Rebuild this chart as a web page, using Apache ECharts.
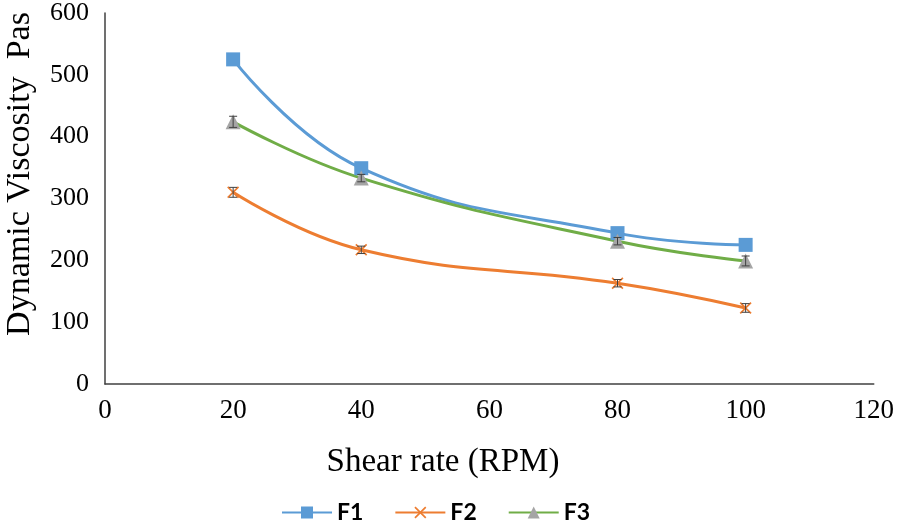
<!DOCTYPE html>
<html><head><meta charset="utf-8">
<script src="https://cdn.jsdelivr.net/npm/echarts@6/dist/echarts.min.js"></script>
<style>html,body{margin:0;padding:0;background:#fff}#c{width:897px;height:523px}</style>
</head><body><div id="c"></div>
<script>
const shearRate = [20, 40, 80, 100];
const F1 = [525, 349, 244, 225];
const F2 = [310, 217, 163, 123];
const F3 = [424, 333, 231, 199];
const F1err = [5, 5, 5, 5];
const F2err = [8, 6, 6, 7];
const F3err = [9, 6, 6, 8];
const seriesNames = ['F1', 'F2', 'F3'];
const colors = ['#5B9BD5', '#ED7D31', '#70AD47'];

const pairs = (ys) => shearRate.map((x, i) => [x, ys[i]]);
const errData = (ys, es) => shearRate.map((x, i) => [x, ys[i] - es[i], ys[i] + es[i]]);

const crossPath = 'path://M0,1L1,0L5,4L9,0L10,1L6,5L10,9L9,10L5,6L1,10L0,9L4,5Z';

function errSeries(ys, es, z) {
  return {
    type: 'custom', z: z, silent: true,
    data: errData(ys, es),
    renderItem: function (params, api) {
      const lo = api.coord([api.value(0), api.value(1)]);
      const hi = api.coord([api.value(0), api.value(2)]);
      const w = 4;
      const st = { stroke: '#404040', lineWidth: 1 };
      return { type: 'group', children: [
        { type: 'line', shape: { x1: lo[0], y1: lo[1], x2: hi[0], y2: hi[1] }, style: st },
        { type: 'line', shape: { x1: lo[0] - w, y1: lo[1], x2: lo[0] + w, y2: lo[1] }, style: st },
        { type: 'line', shape: { x1: hi[0] - w, y1: hi[1], x2: hi[0] + w, y2: hi[1] }, style: st }
      ]};
    }
  };
}

const chart = echarts.init(document.getElementById('c'));
chart.setOption({
  animation: false,
  grid: { left: 105, right: 22, top: 13, bottom: 139 },
  xAxis: {
    type: 'value', min: 0, max: 120, interval: 20,
    axisLine: { show: true, lineStyle: { color: '#404040', width: 1.5 } },
    axisTick: { show: false }, splitLine: { show: false },
    axisLabel: { fontFamily: 'Liberation Serif', fontSize: 27, color: '#000', margin: 13 }
  },
  yAxis: {
    type: 'value', min: 0, max: 600, interval: 100,
    axisLine: { show: true, lineStyle: { color: '#404040', width: 1.5 } },
    axisTick: { show: false }, splitLine: { show: false },
    axisLabel: { fontFamily: 'Liberation Serif', fontSize: 26, color: '#000', margin: 16 }
  },
  graphic: [{
    type: 'text', x: 3, y: 174, rotation: Math.PI / 2,
    style: { text: 'Dynamic Viscosity  Pas', fontFamily: 'Liberation Serif', fontSize: 34, fill: '#000',
      align: 'center', verticalAlign: 'top' }
  }, {
    type: 'text', x: 443, y: 462,
    style: { text: 'Shear rate (RPM)', fontFamily: 'Liberation Serif', fontSize: 33, fill: '#000',
      align: 'center', verticalAlign: 'middle' }
  }],
  legend: {
    top: 496, left: 276, itemWidth: 50, itemHeight: 15, itemGap: 31,
    data: seriesNames,
    textStyle: { fontFamily: 'Lato', fontWeight: 'bold', fontSize: 23, color: '#000' }
  },
  series: [
    { name: 'F1', type: 'line', smooth: 0.45, data: pairs(F1), z: 3,
      symbol: 'rect', symbolSize: 14,
      lineStyle: { color: colors[0], width: 3 }, itemStyle: { color: colors[0] } },
    { name: 'F2', type: 'line', smooth: 0.45, data: pairs(F2), z: 3,
      symbol: crossPath, symbolSize: 12,
      lineStyle: { color: colors[1], width: 3 }, itemStyle: { color: colors[1] } },
    { name: 'F3', type: 'line', smooth: 0.45, data: pairs(F3), z: 3,
      symbol: 'triangle', symbolSize: 15,
      lineStyle: { color: colors[2], width: 3 }, itemStyle: { color: '#A5A5A5' } },
    errSeries(F1, F1err, 1), errSeries(F2, F2err, 10), errSeries(F3, F3err, 10)
  ]
});
</script>
</body></html>
